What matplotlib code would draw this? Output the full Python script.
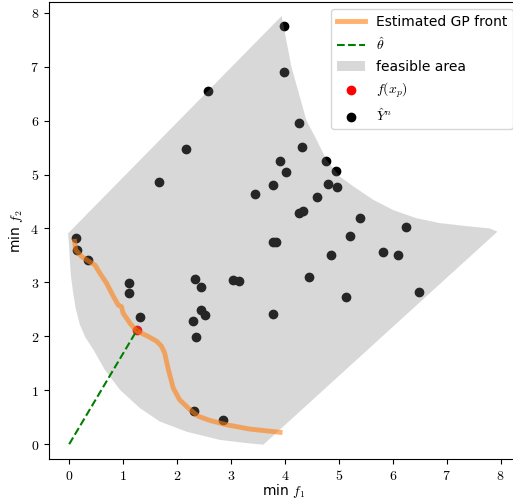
import matplotlib
matplotlib.use('Agg')
from matplotlib import pyplot as plt
from matplotlib.ticker import FuncFormatter, MultipleLocator

plt.rcParams['mathtext.fontset'] = 'cm'

# estimated GP front
front_x = [0.10, 0.12, 0.23, 0.35, 0.48, 0.57, 0.69, 0.82, 0.91, 0.97, 1.00,
           1.13, 1.25, 1.46, 1.62, 1.71, 1.77, 1.84, 1.93, 2.05, 2.24, 2.39,
           2.61, 2.92, 3.35, 3.91]
front_y = [3.76, 3.60, 3.48, 3.40, 3.32, 3.17, 2.99, 2.74, 2.58, 2.55, 2.43,
           2.24, 2.10, 2.00, 1.91, 1.82, 1.69, 1.38, 1.04, 0.82, 0.64, 0.52,
           0.44, 0.36, 0.28, 0.22]

# feasible area boundary
area_x = [-0.02, 3.94, 4.12, 4.40, 4.59, 4.77, 5.02, 5.27, 5.64, 6.01, 6.44,
          6.87, 7.31, 7.80, 7.94, 3.60, 3.29, 2.79, 2.18, 1.68, 1.31, 0.94,
          0.66, 0.45, 0.30, 0.20, 0.12, 0.07, 0.03, 0.01, 0.00]
area_y = [3.91, 7.94, 7.00, 6.00, 5.64, 5.27, 4.96, 4.78, 4.53, 4.34, 4.19,
          4.10, 4.05, 4.00, 3.94, -0.01, 0.02, 0.08, 0.23, 0.42, 0.67, 1.01,
          1.38, 1.75, 1.98, 2.21, 2.52, 2.83, 3.14, 3.45, 3.65]

# preference point and observations
xp = [1.26]
fxp = [2.12]
Y1 = [0.12, 0.14, 0.35, 1.10, 1.10, 1.32, 2.32, 2.86, 2.29, 2.36, 2.44, 2.52,
      2.33, 2.44, 3.04, 3.15, 3.78, 3.78, 3.83, 4.45, 5.13, 6.49, 4.86, 5.81,
      6.09, 5.21, 6.25, 5.39, 4.27, 4.34, 4.59, 3.44, 4.96, 4.79, 3.77, 1.66,
      4.02, 4.95, 3.91, 4.77, 4.32, 2.16, 4.26, 2.57, 3.99, 3.99]
Y2 = [3.82, 3.60, 3.42, 2.99, 2.80, 2.35, 0.62, 0.45, 2.29, 1.98, 2.48, 2.40,
      3.07, 2.92, 3.05, 3.03, 2.41, 3.74, 3.75, 3.10, 2.73, 2.83, 3.50, 3.57,
      3.50, 3.86, 4.02, 4.20, 4.29, 4.32, 4.59, 4.64, 4.76, 4.82, 4.80, 4.86,
      5.05, 5.06, 5.26, 5.26, 5.51, 5.47, 5.96, 6.55, 6.90, 7.76]

fig = plt.figure(figsize=(5.13, 4.99), dpi=100)
ax = fig.add_axes([0.0949, 0.0796, 0.9178, 0.9154])

ax.plot(front_x, front_y, color='tab:orange', alpha=0.6, lw=3.5,
        label='Estimated GP front')
ax.plot([0, xp[0]], [0, fxp[0]], '--', color='green', label=r'$\hat{\theta}$')
ax.fill(area_x, area_y, color='gray', alpha=0.3, lw=0, zorder=1.5,
        label='feasible area')
ax.scatter(xp, fxp, color='red', zorder=1, label='$f(x_p)$')
ax.scatter(Y1, Y2, color='k', zorder=1, label=r'$\hat{Y}^n$')

ax.set_xlim(-0.38, 8.35)
ax.set_ylim(-0.28, 8.19)
ax.xaxis.set_major_locator(MultipleLocator(1))
ax.yaxis.set_major_locator(MultipleLocator(1))
ax.xaxis.set_major_formatter(FuncFormatter(lambda v, _: '$%d$' % round(v)))
ax.yaxis.set_major_formatter(FuncFormatter(lambda v, _: '$%d$' % round(v)))
ax.set_xlabel('min $f_1$', labelpad=-0.6)
ax.set_ylabel('min $f_2$')
ax.legend(loc='upper right')

fig.savefig('out.png', dpi=100)
